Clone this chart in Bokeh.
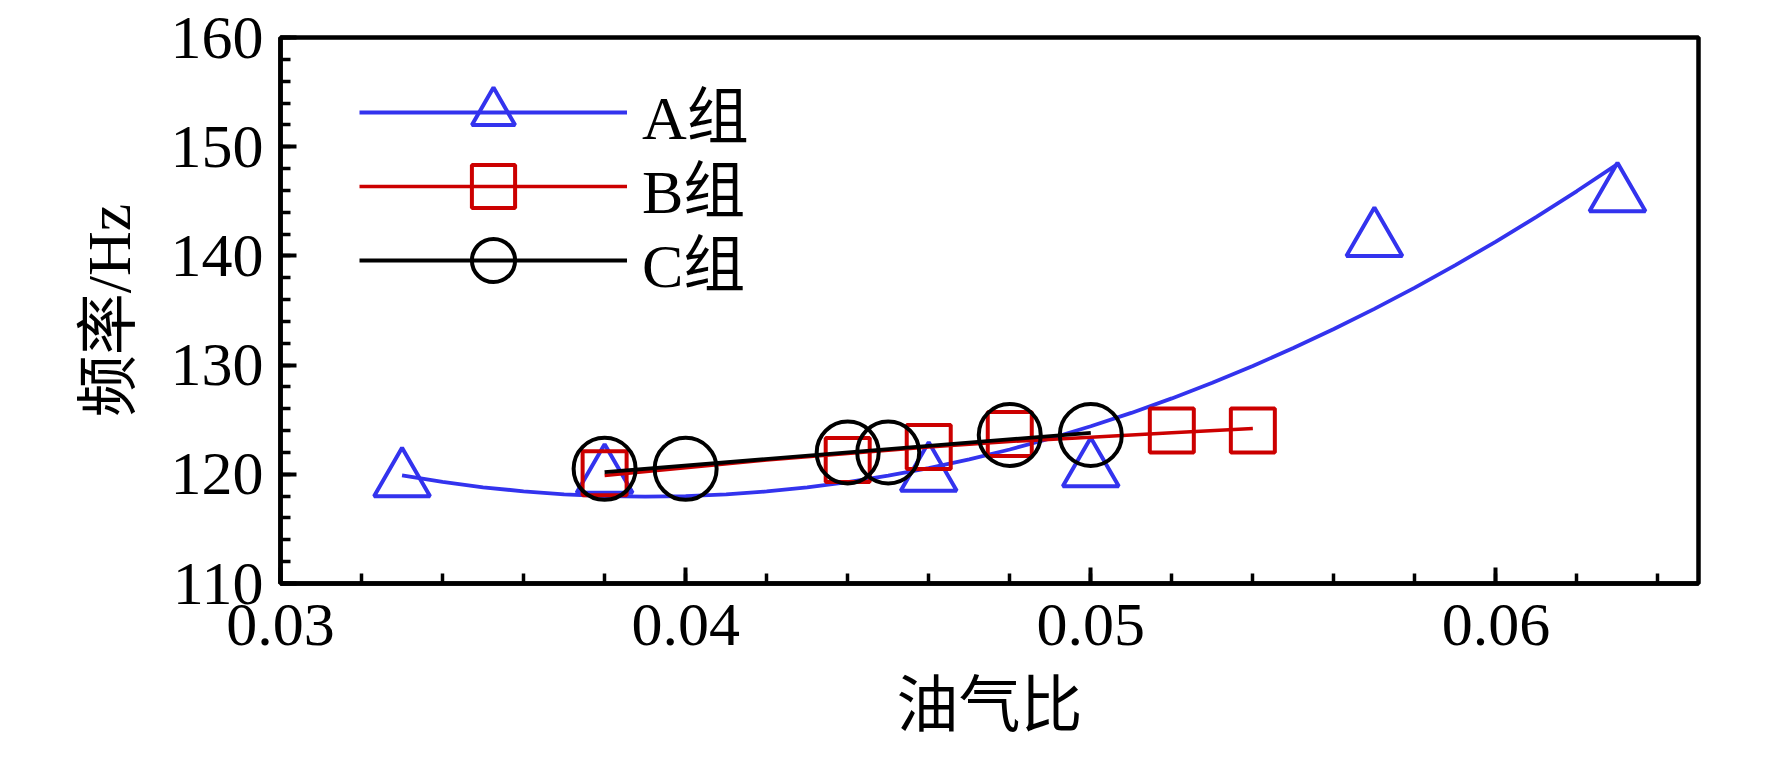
from bokeh.plotting import figure
from bokeh.models import (Range1d, SingleIntervalTicker, PrintfTickFormatter, Legend,
                          LegendItem, ColumnDataSource)
from bokeh.transform import dodge
from bokeh.embed import file_html
from bokeh.resources import INLINE

# ---- data ----
a_x = [0.033, 0.038, 0.046, 0.050, 0.057, 0.063]
a_y = [120.2, 120.5, 120.7, 121.1, 142.2, 146.3]
b_x = [0.038, 0.044, 0.046, 0.048, 0.052, 0.054]
b_y = [120.1, 121.3, 122.5, 123.7, 124.0, 124.0]
c_x = [0.038, 0.040, 0.044, 0.045, 0.048, 0.050]
c_y = [120.5, 120.5, 122.0, 122.0, 123.6, 123.6]

# fitted curves as drawn in the reference
a_fit_x = [0.033, 0.034, 0.035, 0.036, 0.037, 0.038, 0.039, 0.040, 0.041, 0.042,
           0.043, 0.044, 0.045, 0.046, 0.047, 0.048, 0.049, 0.050, 0.051, 0.052,
           0.053, 0.054, 0.055, 0.056, 0.057, 0.058, 0.059, 0.060, 0.061, 0.062,
           0.063]
a_fit_y = [119.90, 119.30, 118.81, 118.44, 118.16, 118.00, 117.95, 118.00, 118.16,
           118.43, 118.80, 119.28, 119.87, 120.57, 121.37, 122.27, 123.28, 124.40,
           125.62, 126.95, 128.38, 129.92, 131.56, 133.30, 135.15, 137.10, 139.16,
           141.31, 143.57, 145.94, 148.40]
b_fit_x = [0.038, 0.040, 0.042, 0.044, 0.046, 0.048, 0.050, 0.052, 0.054]
b_fit_y = [119.9, 120.6, 121.3, 121.9, 122.5, 123.0, 123.4, 123.8, 124.2]
c_fit_x = [0.038, 0.050]
c_fit_y = [120.2, 123.8]

series_names = ["A组", "B组", "C组"]
x_title = "油气比"
y_title = "频率/Hz"

BLUE = "#3333EE"
RED = "#CC0000"
BLACK = "#000000"
SERIF = "Liberation Serif"
MIXED = "'Liberation Serif', 'Noto Sans CJK SC'"

p = figure(frame_width=1418, frame_height=546,
           x_range=Range1d(0.03, 0.065), y_range=Range1d(110, 160),
           output_backend="svg", toolbar_location=None,
           min_border_left=280, min_border_right=58,
           min_border_top=37, min_border_bottom=160)
p.xgrid.visible = False
p.ygrid.visible = False
p.outline_line_color = "black"
p.outline_line_width = 4.5
p.outline_line_alpha = 1.0
p.background_fill_color = "white"
p.border_fill_color = "white"

p.xaxis.ticker = SingleIntervalTicker(interval=0.01, num_minor_ticks=5)
p.xaxis.formatter = PrintfTickFormatter(format="%.2f")
p.yaxis.ticker = SingleIntervalTicker(interval=10, num_minor_ticks=5)

for ax in (p.xaxis[0], p.yaxis[0]):
    ax.axis_line_width = 4.5
    ax.axis_line_color = "black"
    ax.major_tick_in = 16
    ax.major_tick_out = 0
    ax.minor_tick_in = 10
    ax.minor_tick_out = 0
    ax.major_tick_line_width = 4
    ax.minor_tick_line_width = 3.5
    ax.major_tick_line_color = "black"
    ax.minor_tick_line_color = "black"
    ax.major_label_text_font = SERIF
    ax.major_label_text_font_size = "62px"
    ax.major_label_text_color = "black"
    ax.axis_label_text_font = MIXED
    ax.axis_label_text_font_size = "62px"
    ax.axis_label_text_font_style = "normal"
    ax.axis_label_text_color = "black"

p.xaxis.axis_label = x_title
p.yaxis.axis_label = y_title
p.xaxis.major_label_standoff = 21
p.yaxis.major_label_standoff = 17
p.xaxis.axis_label_standoff = 24
p.yaxis.axis_label_standoff = 25

# series A (triangles: shift so the symbol's box, not its centroid, sits on the value)
src_a = ColumnDataSource(dict(x=a_x, y=a_y))
la = p.line(a_fit_x, a_fit_y, line_color=BLUE, line_width=3.8)
sa = p.scatter(x="x", y=dodge("y", -0.72, range=p.y_range), source=src_a,
               marker="triangle", size=56, fill_color=None,
               line_color=BLUE, line_width=4)
# series B
lb = p.line(b_fit_x, b_fit_y, line_color=RED, line_width=3.5)
sb = p.scatter(b_x, b_y, marker="square", size=44, fill_color=None,
               line_color=RED, line_width=4)
# series C
lc = p.line(c_fit_x, c_fit_y, line_color=BLACK, line_width=3.8)
sc = p.scatter(c_x, c_y, marker="circle", size=62, fill_color=None,
               line_color=BLACK, line_width=4)

# one legend per entry so rows can sit closer than the glyph box height
entries = [(series_names[0], [la, sa], 417),
           (series_names[1], [lb, sb], 343),
           (series_names[2], [lc, sc], 269)]
for name, rends, ybot in entries:
    lg = Legend(items=[LegendItem(label=name, renderers=rends)],
                location=(79, ybot), orientation="vertical",
                glyph_width=268, glyph_height=108, label_standoff=15,
                padding=0, margin=0, spacing=0,
                label_text_font=MIXED, label_text_font_size="62px",
                label_text_color="black",
                border_line_color=None, background_fill_alpha=0.0)
    p.add_layout(lg, "center")

open("out.html", "w").write(file_html(p, INLINE))
